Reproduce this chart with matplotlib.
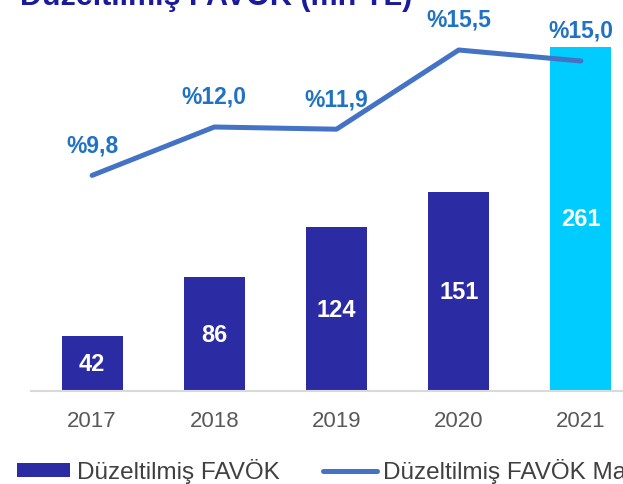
import matplotlib
matplotlib.use("Agg")
import matplotlib.pyplot as plt
from matplotlib.patches import Patch
from matplotlib.lines import Line2D

plt.rcParams['font.family'] = ['Liberation Sans', 'DejaVu Sans']

# veriler
yillar = ['2017', '2018', '2019', '2020', '2021']
favok = [42, 86, 124, 151, 261]
marj = [9.8, 12.0, 11.9, 15.5, 15.0]
marj_etiket = ['%9,8', '%12,0', '%11,9', '%15,5', '%15,0']

renk_bar = '#2b2ba3'
renk_son = '#00ccff'
renk_cizgi = '#4472c4'
renk_yazi = '#1f72c4'

fig = plt.figure(figsize=(6.23, 4.85), dpi=100)
ax = fig.add_axes([31 / 623, 93 / 485, 611 / 623, 392 / 485])

x = list(range(len(yillar)))
renkler = [renk_bar] * (len(yillar) - 1) + [renk_son]
bars = ax.bar(x, favok, width=0.5, color=renkler, zorder=2)

# bar etiketleri (beyaz, ortada)
for b, v in zip(bars, favok):
    ax.text(b.get_x() + b.get_width() / 2, v / 2, str(v), ha='center', va='center',
            color='white', fontsize=17, fontweight='bold', zorder=3)

ax.set_xlim(-0.5, 4.5)
ax.set_ylim(0, 297)
ax.set_yticks([])
ax.set_xticks(x)
ax.set_xticklabels(yillar, fontsize=16, color='#595959')
ax.tick_params(axis='x', length=0, pad=14)
for s in ['top', 'right', 'left']:
    ax.spines[s].set_visible(False)
ax.spines['bottom'].set_color('#d9d9d9')
ax.spines['bottom'].set_linewidth(1.5)
ax.patch.set_visible(False)

# marj cizgisi ikinci eksende
ax2 = ax.twinx()
ax2.plot(x, marj, color=renk_cizgi, lw=3.6, solid_capstyle='round', zorder=4)
ax2.set_ylim(0, 392 / 22)
ax2.set_yticks([])
ax2.axis('off')
for xi, v, t in zip(x, marj, marj_etiket):
    ax2.annotate(t, (xi, v), xytext=(0, 22), textcoords='offset points',
                 ha='center', va='center', color=renk_yazi, fontsize=16.5,
                 fontweight='bold')

fig.text(20 / 623, 1 - 5 / 485, 'Düzeltilmiş FAVÖK (mn TL)', ha='left', va='baseline',
         fontsize=22, fontweight='bold', color='#1a1a9c')

handles = [Patch(facecolor=renk_bar, edgecolor='none'),
           Line2D([0], [0], color=renk_cizgi, lw=3.6, solid_capstyle='round')]
fig.legend(handles, ['Düzeltilmiş FAVÖK', 'Düzeltilmiş FAVÖK Marjı'],
           loc='center left', bbox_to_anchor=(17 / 623, 13 / 485), ncol=2, frameon=False,
           fontsize=17.5, handlelength=2.2, handleheight=0.53, handletextpad=0.25,
           columnspacing=1.8, labelcolor='#404040', borderaxespad=0, borderpad=0)

fig.savefig('out.png', dpi=100)
